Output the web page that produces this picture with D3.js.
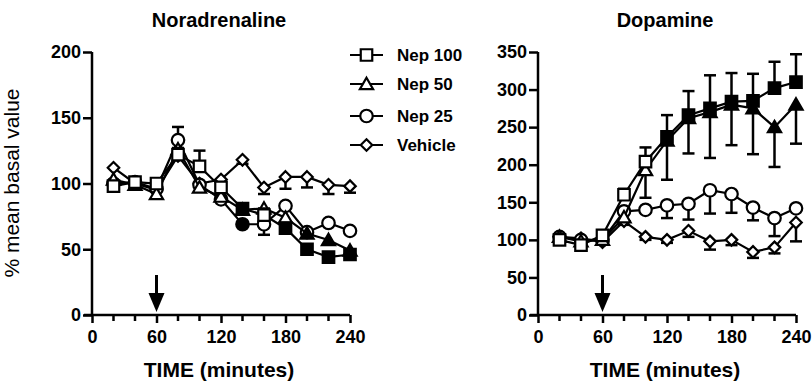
<!DOCTYPE html>
<html><head><meta charset="utf-8">
<script src="https://cdn.jsdelivr.net/npm/d3@7"></script>
<style>body{margin:0;background:#fff}svg{display:block}text{font-family:"Liberation Sans",Arial,sans-serif;fill:#000}</style>
</head><body><svg id="c" width="812" height="382"></svg>
<script>
const times = [20, 40, 60, 80, 100, 120, 140, 160, 180, 200, 220, 240];
const seriesNames = ["Nep 100", "Nep 50", "Nep 25", "Vehicle"];
const symbolKinds = ["square", "triangle", "circle", "diamond"];
const xTicks = [0, 60, 120, 180, 240];
const xMinorTicks = [20, 40, 80, 100, 140, 160, 200, 220];

// Noradrenaline
const naNep100 = [98, 101, 100, 122, 113, 97, 81, 76, 66, 50, 44, 46];
const naNep50  = [103, 99, 92, 126, 97, 90, 80, 81, 74, 62, 57, 49];
const naNep25  = [100, 101, 96, 133, 99, 88, 69, 69, 83, 63, 70, 64];
const naVeh    = [112, 100, 95, 121, 100, 103, 118, 97, 105, 105, 99, 98];
const naErrNep100 = [3, 3, 3, 5, 12, 3, 3, 5, 4, 3, 3, 3];
const naErrNep50  = [0, 0, 0, 0, 0, 0, 0, 0, 0, 0, 0, 0];
const naErrNep25  = [0, 0, 0, 10, 0, 0, 0, -8, 0, 0, 0, 0];
const naErrVeh    = [0, 0, 0, 0, 0, 0, -3, -5, -9, -8, -7, -5];
const naFillNep100 = [0,0,0,0,0,0,1,0,1,1,1,1];
const naFillNep50  = [0,0,0,0,0,0,0,0,0,1,1,1];
const naFillNep25  = [0,0,0,0,0,0,1,0,0,0,0,0];
const naFillVeh    = [0,0,0,0,0,0,0,0,0,0,0,0];
const naYTicks = [0, 50, 100, 150, 200];

// Dopamine
const daNep100 = [100, 93, 106, 160, 204, 237, 266, 275, 284, 285, 302, 310];
const daNep50  = [104, 98, 100, 130, 193, 232, 262, 270, 280, 275, 250, 280];
const daNep25  = [104, 100, 100, 138, 140, 146, 148, 166, 161, 143, 129, 142];
const daVeh    = [104, 102, 97, 125, 104, 100, 112, 98, 100, 84, 90, 123];
const daErrNep100 = [3, 3, 3, 8, 19, 29, 32, 44, 38, 36, 35, 37];
const daErrNep50  = [-3, -3, -3, -5, -37, -52, -47, -61, -54, -61, -53, -52];
const daErrNep25  = [-2, -2, -2, -3, -3, -17, -21, -31, -25, -17, -24, -3];
const daErrVeh    = [-2, -2, -2, -5, -4, -4, -8, -11, -7, -8, -8, -25];
const daFillNep100 = [0,0,0,0,0,1,1,1,1,1,1,1];
const daFillNep50  = [0,0,0,0,0,1,1,1,1,1,1,1];
const daFillNep25  = [0,0,0,0,0,0,0,0,0,0,0,0];
const daFillVeh    = [0,0,0,0,0,0,0,0,0,0,0,0];
const daYTicks = [0, 50, 100, 150, 200, 250, 300, 350];

const svg = d3.select("#c");
const FONT = '"Liberation Sans", Arial, sans-serif';

function symPath(kind, s) {
  const h = s / 2;
  if (kind === "square") return `M${-h},${-h}H${h}V${h}H${-h}Z`;
  if (kind === "triangle") return `M0,${-h*1.05}L${h*1.1},${h*0.85}H${-h*1.1}Z`;
  if (kind === "diamond") return `M0,${-h}L${h},0L0,${h}L${-h},0Z`;
  return d3.symbol(d3.symbolCircle, Math.PI * h * h)();
}
const symSize = {square: 11.5, triangle: 12, circle: 12.5, diamond: 11.5};

function panel(cfg) {
  const x = d3.scaleLinear().domain([0, 240]).range(cfg.xr);
  const y = d3.scaleLinear().domain([0, cfg.ymax]).range([315, 52]);
  const g = svg.append("g");

  g.append("text").attr("x", (cfg.xr[0] + cfg.xr[1]) / 2 - 2).attr("y", 27)
    .attr("text-anchor", "middle").style("font-size", "20px").style("font-weight", "bold").text(cfg.title);
  g.append("text").attr("x", (cfg.xr[0] + cfg.xr[1]) / 2 - 2).attr("y", 377)
    .attr("text-anchor", "middle").style("font-size", "21px").style("font-weight", "bold").text("TIME (minutes)");

  const ya = d3.axisLeft(y).tickValues(cfg.yTicks).tickSize(9).tickPadding(2).tickFormat(d3.format("d"));
  const yg = g.append("g").attr("transform", `translate(${cfg.xr[0]},0)`).call(ya);
  yg.select(".domain").attr("stroke-width", 2.5).attr("d", `M0,${y(cfg.ymax)}V${y(0)}`);
  yg.selectAll(".tick line").attr("stroke-width", 2.5);
  yg.selectAll(".tick text").style("font-size", "18px").style("font-weight", "bold").style("font-family", FONT);

  const xa = d3.axisBottom(x).tickValues(xTicks).tickSize(8).tickPadding(7).tickFormat(d3.format("d"));
  const xg = g.append("g").attr("transform", `translate(0,315)`).call(xa);
  xg.select(".domain").attr("stroke-width", 2.5).attr("d", `M${cfg.xr[0] - 8},0H${cfg.xr[1]}`);
  xg.selectAll(".tick line").attr("stroke-width", 2.5);
  xg.selectAll(".tick text").style("font-size", "18px").style("font-weight", "bold").style("font-family", FONT);
  xg.selectAll(".minor").data(xMinorTicks).join("line").attr("class", "minor")
    .attr("x1", d => x(d)).attr("x2", d => x(d)).attr("y1", 0).attr("y2", 6)
    .attr("stroke", "#000").attr("stroke-width", 2.5);

  const ax = x(60);
  g.append("line").attr("x1", ax).attr("x2", ax).attr("y1", 275).attr("y2", 296).attr("stroke", "#000").attr("stroke-width", 3);
  g.append("path").attr("d", `M${ax - 8},293L${ax + 8},293L${ax},312Z`).attr("fill", "#000");

  const order = [3, 2, 1, 0];
  order.forEach(i => {
    const vals = cfg.vals[i], errs = cfg.errs[i], fill = cfg.fills[i];
    const kind = symbolKinds[i];
    const sg = g.append("g");
    times.forEach((t, k) => {
      const e = errs[k];
      if (!e) return;
      const px = x(t), y1 = y(vals[k]), y2 = y(vals[k] + e);
      sg.append("line").attr("x1", px).attr("x2", px).attr("y1", y1).attr("y2", y2).attr("stroke", "#000").attr("stroke-width", 2.5);
      sg.append("line").attr("x1", px - 6).attr("x2", px + 6).attr("y1", y2).attr("y2", y2).attr("stroke", "#000").attr("stroke-width", 2.5);
    });
    const line = d3.line().x((d, k) => x(times[k])).y(d => y(d));
    sg.append("path").datum(vals).attr("d", line).attr("fill", "none").attr("stroke", "#000").attr("stroke-width", 2.2);
    sg.selectAll(".m").data(vals).join("path").attr("class", "m")
      .attr("transform", (d, k) => `translate(${x(times[k])},${y(d)})`)
      .attr("d", symPath(kind, symSize[kind]))
      .attr("fill", (d, k) => fill[k] ? "#000" : "#fff")
      .attr("stroke", "#000").attr("stroke-width", 2.2);
  });
}

panel({title: "Noradrenaline", xr: [92, 350], ymax: 200, yTicks: naYTicks,
  vals: [naNep100, naNep50, naNep25, naVeh], errs: [naErrNep100, naErrNep50, naErrNep25, naErrVeh],
  fills: [naFillNep100, naFillNep50, naFillNep25, naFillVeh]});
panel({title: "Dopamine", xr: [538, 796], ymax: 350, yTicks: daYTicks,
  vals: [daNep100, daNep50, daNep25, daVeh], errs: [daErrNep100, daErrNep50, daErrNep25, daErrVeh],
  fills: [daFillNep100, daFillNep50, daFillNep25, daFillVeh]});

svg.append("text").attr("transform", "translate(19,183) rotate(-90)").attr("text-anchor", "middle")
  .style("font-size", "21px").text("% mean basal value");

const legY = [55, 84, 116, 145];
const lg = svg.append("g");
seriesNames.forEach((n, i) => {
  lg.append("line").attr("x1", 350).attr("x2", 383).attr("y1", legY[i]).attr("y2", legY[i]).attr("stroke", "#000").attr("stroke-width", 2.2);
  lg.append("path").attr("transform", `translate(366.5,${legY[i]})`).attr("d", symPath(symbolKinds[i], symSize[symbolKinds[i]]))
    .attr("fill", "#fff").attr("stroke", "#000").attr("stroke-width", 2.2);
  lg.append("text").attr("x", 397).attr("y", legY[i] + 6).style("font-size", "17px").style("font-weight", "bold").text(n);
});
</script></body></html>
